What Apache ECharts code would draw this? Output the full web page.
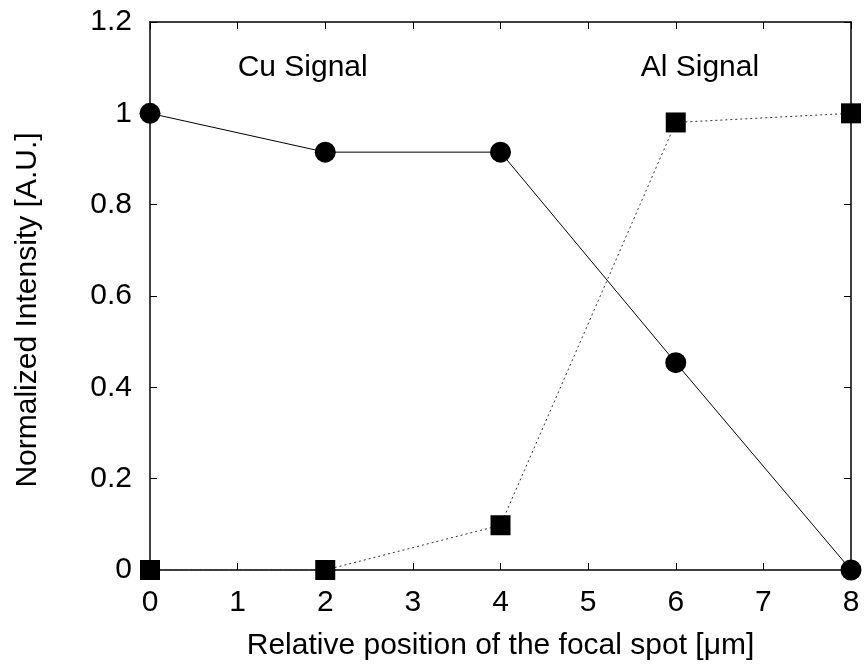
<!DOCTYPE html>
<html>
<head>
<meta charset="utf-8">
<script src="https://cdn.jsdelivr.net/npm/echarts@6/dist/echarts.min.js"></script>
<style>
  html, body { margin: 0; padding: 0; background: #fff; }
  #chart { width: 865px; height: 664px; }
</style>
</head>
<body>
<div id="chart"></div>
<script>
// Scan positions of the focal spot [µm]
const positions = [0, 2, 4, 6, 8];
// Normalized Cu fluorescence signal
const cuSignal = [1.0, 0.915, 0.915, 0.454, 0.0];
// Normalized Al fluorescence signal
const alSignal = [0.0, 0.0, 0.098, 0.98, 1.0];
// In-plot annotations [x, y, text]
const annotations = [[1.0, 1.1, 'Cu Signal'], [5.6, 1.1, 'Al Signal']];

const FONT = '"Liberation Sans", Arial, Helvetica, sans-serif';
const FS = 30;
const chart = echarts.init(document.getElementById('chart'));

const pairs = (ys) => positions.map((x, i) => [x, ys[i]]);

const axisCommon = {
  axisLine: { show: true, onZero: false, lineStyle: { color: '#000', width: 1.5 } },
  axisTick: { show: true, inside: true, length: 7, lineStyle: { color: '#000', width: 1 } },
  splitLine: { show: false }
};

chart.setOption({
  animation: false,
  backgroundColor: '#fff',
  grid: { left: 150, right: 14, top: 22, bottom: 94, containLabel: false, outerBoundsMode: 'none' },
  xAxis: [
    Object.assign({
      type: 'value', min: 0, max: 8, interval: 1, position: 'bottom',
      name: 'Relative position of the focal spot [\u03bcm]',
      nameLocation: 'middle', nameGap: 61,
      nameTextStyle: { fontFamily: FONT, fontSize: FS, color: '#000' },
      axisLabel: { fontFamily: FONT, fontSize: FS, color: '#000', margin: 18 }
    }, axisCommon),
    Object.assign({
      type: 'value', min: 0, max: 8, interval: 1, position: 'top',
      axisLabel: { show: false }
    }, axisCommon)
  ],
  yAxis: [
    Object.assign({
      type: 'value', min: 0, max: 1.2, interval: 0.2, position: 'left',
      name: 'Normalized Intensity [A.U.]',
      nameLocation: 'middle', nameGap: 107, nameRotate: 90,
      nameTextStyle: { fontFamily: FONT, fontSize: FS, color: '#000', padding: [0, 28, 0, 0] },
      axisLabel: {
        fontFamily: FONT, fontSize: FS, color: '#000', margin: 18,
        formatter: (v) => String(+v.toFixed(1))
      }
    }, axisCommon),
    Object.assign({
      type: 'value', min: 0, max: 1.2, interval: 0.2, position: 'right',
      axisLabel: { show: false }
    }, axisCommon)
  ],
  series: [
    {
      name: 'Al', type: 'line', data: pairs(alSignal),
      symbol: 'rect', symbolSize: 20,
      lineStyle: { color: '#333', width: 1, type: [2, 3] },
      itemStyle: { color: '#000' },
      z: 3, clip: false
    },
    {
      name: 'Cu', type: 'line', data: pairs(cuSignal),
      symbol: 'circle', symbolSize: 21,
      lineStyle: { color: '#000', width: 1 },
      itemStyle: { color: '#000' },
      z: 4, clip: false
    }
  ]
});

// Place the "Cu Signal" / "Al Signal" captions in data coordinates
chart.setOption({
  graphic: annotations.map(([x, y, t]) => {
    const p = chart.convertToPixel({ xAxisIndex: 0, yAxisIndex: 0 }, [x, y]);
    return {
      type: 'text', x: p[0], y: p[1],
      style: { text: t, fontFamily: FONT, fontSize: FS, fill: '#000', verticalAlign: 'middle' }
    };
  })
});
</script>
</body>
</html>
